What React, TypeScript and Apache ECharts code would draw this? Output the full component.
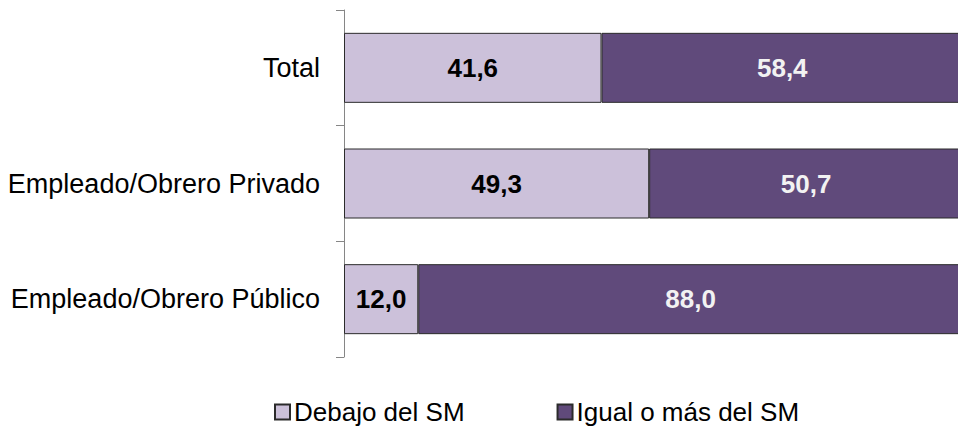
import React, { useEffect, useRef } from "react";
import * as echarts from "echarts";

const categories = ["Total", "Empleado/Obrero Privado", "Empleado/Obrero Público"];
const debajo = [41.6, 49.3, 12.0];
const igualOMas = [58.4, 50.7, 88.0];
const seriesNames = ["Debajo del SM", "Igual o más del SM"];

const FONT = "'Liberation Sans', Arial, sans-serif";
const fmt = (p: any) => Number(p.value).toFixed(1).replace(".", ",");

export default function App() {
  const ref = useRef<HTMLDivElement>(null);
  useEffect(() => {
    if (!ref.current) return;
    const chart = echarts.init(ref.current, null, { renderer: "svg" });
    chart.setOption({
      animation: false,
      textStyle: { fontFamily: FONT },
      grid: { left: 344, top: 10, width: 619, height: 347, containLabel: false },
      legend: {
        top: 399,
        left: 274,
        padding: 0,
        itemWidth: 15,
        itemHeight: 15,
        itemGap: 92,
        icon: "rect",
        textStyle: { fontSize: 26, color: "#000", fontFamily: FONT, padding: [0, 0, 0, -1] },
        data: seriesNames,
      },
      xAxis: {
        type: "value",
        min: 0,
        max: 100,
        show: false,
      },
      yAxis: {
        type: "category",
        data: categories,
        inverse: true,
        axisLine: { show: true, lineStyle: { color: "#868686", width: 1 } },
        axisTick: { show: true, length: 8, lineStyle: { color: "#868686" } },
        axisLabel: { fontSize: 27, color: "#000", margin: 24, fontFamily: FONT },
      },
      series: [
        {
          name: seriesNames[0],
          type: "bar",
          stack: "total",
          data: debajo,
          barWidth: 70,
          itemStyle: { color: "#CCC1DA", borderColor: "#2b2b2b", borderWidth: 1 },
          label: {
            show: true,
            position: "inside",
            formatter: fmt,
            fontSize: 26,
            fontWeight: "bold",
            color: "#000",
            fontFamily: FONT,
          },
        },
        {
          name: seriesNames[1],
          type: "bar",
          stack: "total",
          data: igualOMas,
          barWidth: 70,
          itemStyle: { color: "#604A7B", borderColor: "#2b2b2b", borderWidth: 1 },
          label: {
            show: true,
            position: "inside",
            formatter: fmt,
            fontSize: 26,
            fontWeight: "bold",
            color: "#F2F2F2",
            fontFamily: FONT,
          },
        },
      ],
    });
    return () => chart.dispose();
  }, []);
  return (
    <div style={{ width: 958, height: 430, position: "absolute", left: 0, top: 0, overflow: "hidden" }}>
      <div ref={ref} style={{ width: 970, height: 430 }} />
    </div>
  );
}
